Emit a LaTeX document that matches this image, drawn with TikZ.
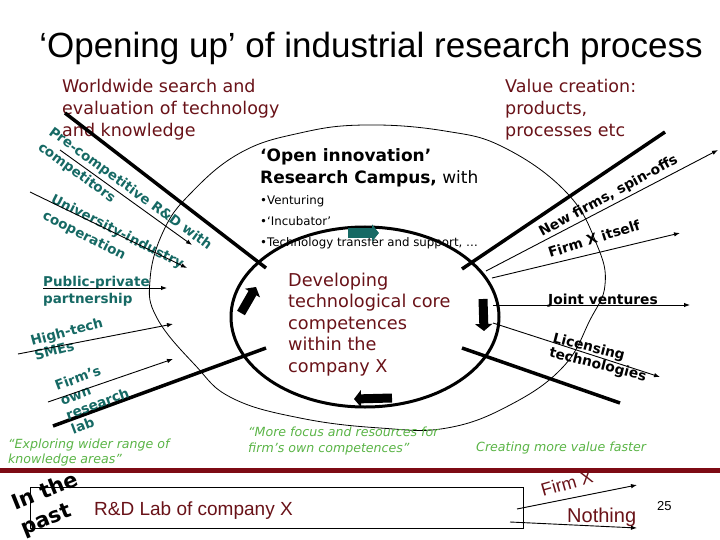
\documentclass[tikz,border=0pt]{standalone}
\usepackage{fontspec}
\setmainfont{DejaVu Sans}
\newfontfamily\titlefont{Liberation Sans}
\usetikzlibrary{arrows.meta, positioning}

\definecolor{labelteal}{RGB}{22,105,100}
\definecolor{textred}{RGB}{105,18,24}
\definecolor{rulered}{RGB}{125,10,20}
\definecolor{quotegreen}{RGB}{90,180,70}

\begin{document}
\begin{tikzpicture}[
x=1pt, y=-1pt,
every node/.style={inner sep=0pt, align=left},
redtext/.style={text=textred, font=\fontsize{17.5}{22}\selectfont, anchor=base west},
reach/.style={text=labelteal, font=\bfseries\fontsize{13.5}{18.5}\selectfont, anchor=base west},
outlet/.style={font=\bfseries\fontsize{13.8}{15}\selectfont, anchor=base west},
quote/.style={text=quotegreen, font=\itshape\fontsize{12.6}{15.5}\selectfont, anchor=base west},
arrow/.style={-{Latex[length=6pt, width=4.5pt]}, line width=0.9pt},
funnel/.style={line width=3.5pt},
turn/.style={line width=9pt, -{Triangle[length=7pt, width=17pt]}}
]

\useasboundingbox (0,0) rectangle (720,540);

% ---------- TITLE ----------

\node[font=\titlefont\fontsize{35}{40}\selectfont, anchor=base] (title) at (371,58)
{‘Opening up’ of industrial research process};

% ---------- CAMPUS AND CORE ----------
% (multi-line nodes sit on the baseline of their last line)

\draw[line width=0.8pt] plot[smooth cycle, tension=0.7] coordinates {
(365,125) (445,131) (505,148) (567,193) (597,245) (605,285) (590,320)
(563,367) (510,405) (447,428) (380,428) (300,418) (232,398) (195,365)
(157,318) (150,280) (163,232) (190,194) (240,153) (300,133)};

\coordinate (core) at (365,317);
\draw[line width=3pt] (core) ellipse [x radius=134pt, y radius=90pt];

\node[redtext] (search) at (62,137)
{Worldwide search and\\
evaluation of technology\\
and knowledge};

\node[redtext] (value) at (505,137)
{Value creation:\\
products,\\
processes etc};

\node[redtext, font=\fontsize{17.7}{21.5}\selectfont] (competences) at (288,372)
{Developing\\
technological core\\
competences\\
within the\\
company X};

\node[font=\bfseries\fontsize{17}{21.5}\selectfont, anchor=base west] (campus) at (260,183.5)
{‘Open innovation’\\
Research Campus,\mdseries{} with};

\node[font=\fontsize{11.8}{21}\selectfont, anchor=base west] (services) at (260,247)
{•Venturing\\
•‘Incubator’\\
•Technology transfer and support, …};

% ---------- CYCLE ON THE CORE ----------

\coordinate (turn-t-s) at (348,233);
\coordinate (turn-t-e) at (379,233);
\coordinate (turn-r-s) at (483,299);
\coordinate (turn-r-e) at (484,331);
\coordinate (turn-b-s) at (392,398);
\coordinate (turn-b-e) at (354,399);
\coordinate (turn-l-s) at (241,313);
\coordinate (turn-l-e) at (256,287);

\draw[turn, labelteal] (turn-t-s) -- (turn-t-e);
\draw[turn] (turn-r-s) -- (turn-r-e);
\draw[turn] (turn-b-s) -- (turn-b-e);
\draw[turn] (turn-l-s) -- (turn-l-e);

% ---------- FUNNEL ----------

\coordinate (funnel-nw) at (65,113);
\coordinate (funnel-nw-in) at (266,268);
\coordinate (funnel-ne) at (665,132);
\coordinate (funnel-ne-in) at (462,269);
\coordinate (funnel-sw) at (53,426);
\coordinate (funnel-sw-in) at (266,348);
\coordinate (funnel-se) at (620,403);
\coordinate (funnel-se-in) at (462,348);

\draw[funnel] (funnel-nw) -- (funnel-nw-in);
\draw[funnel] (funnel-ne) -- (funnel-ne-in);
\draw[funnel] (funnel-sw) -- (funnel-sw-in);
\draw[funnel] (funnel-se) -- (funnel-se-in);

% ---------- INFLOWS ----------

\node[reach, rotate=-36] (precomp) at (37.1,149)
{Pre-competitive R\&D with\\
competitors};

\node[reach, rotate=-27] (univ) at (41.6,218.5)
{University-industry\\
cooperation};

\node[reach, font=\bfseries\fontsize{13.5}{17}\selectfont] (ppp) at (43,303)
{Public-private\\
partnership};

\node[reach, rotate=15, font=\bfseries\fontsize{13.5}{15}\selectfont] (smes) at (35.9,360.5)
{High-tech\\
SMEs};

\node[reach, rotate=20.5, font=\bfseries\fontsize{13.5}{15.5}\selectfont] (ownlab) at (73.3,434.6)
{Firm’s\\
own\\
research\\
lab};

\coordinate (precomp-s) at (60,150);
\coordinate (precomp-e) at (192,245);
\coordinate (univ-s) at (30,192);
\coordinate (univ-e) at (187,268);
\coordinate (ppp-s) at (43,288);
\coordinate (ppp-e) at (167,288);
\coordinate (smes-s) at (18,354);
\coordinate (smes-e) at (173,324);
\coordinate (ownlab-s) at (48,402);
\coordinate (ownlab-e) at (173,359);

\draw[arrow] (precomp-s) -- (precomp-e);
\draw[arrow] (univ-s) -- (univ-e);
\draw[arrow] (ppp-s) -- (ppp-e);
\draw[arrow] (smes-s) -- (smes-e);
\draw[arrow] (ownlab-s) -- (ownlab-e);

% ---------- OUTFLOWS ----------

\node[outlet, rotate=28.6] (spinoffs) at (542,237) {New firms, spin-offs};
\node[outlet, rotate=17.5] (itself) at (550,258) {Firm X itself};
\node[outlet] (jv) at (548,304) {Joint ventures};
\node[outlet, rotate=-14.4] (licensing) at (548.3,356.5)
{Licensing\\
technologies};

\coordinate (spinoffs-s) at (486,271);
\coordinate (spinoffs-e) at (718,150);
\coordinate (itself-s) at (492,278);
\coordinate (itself-e) at (680,233);
\coordinate (jv-s) at (493,305);
\coordinate (jv-e) at (690,305);
\coordinate (licensing-s) at (493,323);
\coordinate (licensing-e) at (660,377);

\draw[arrow] (spinoffs-s) -- (spinoffs-e);
\draw[arrow] (itself-s) -- (itself-e);
\draw[arrow] (jv-s) -- (jv-e);
\draw[arrow] (licensing-s) -- (licensing-e);

% ---------- QUOTES ----------

\node[quote] (explore) at (8,463.5)
{“Exploring wider range of\\
knowledge areas”};

\node[quote, font=\itshape\fontsize{12.6}{16}\selectfont] (focus) at (248,452)
{“More focus and resources for\\
firm’s own competences”};

\node[quote] (faster) at (476,451) {Creating more value faster};

% ---------- IN THE PAST ----------

\coordinate (rule-w) at (0,470);
\coordinate (rule-e) at (720,470);
\draw[rulered, line width=5pt] (rule-w) -- (rule-e);

\node[draw, line width=0.8pt, minimum width=493pt, minimum height=41pt, anchor=north west] (labbox) at (30,487) {};

\node[text=textred, font=\titlefont\fontsize{19}{22}\selectfont, anchor=base west] (labtext) at (94,515)
{R\&D Lab of company X};

\node[font=\bfseries\fontsize{21}{26}\selectfont, rotate=22, anchor=base west] (past) at (24.7,535.1)
{In the\\
past};

\node[text=textred, font=\titlefont\fontsize{18}{20}\selectfont, rotate=16, anchor=base west] (firmx) at (543,497) {Firm X};
\node[text=textred, font=\titlefont\fontsize{20}{22}\selectfont, anchor=base west] (nothing) at (567,522) {Nothing};

\coordinate (firmx-s) at (517,509);
\coordinate (firmx-e) at (637,485);
\coordinate (nothing-s) at (510,522);
\coordinate (nothing-e) at (637,528);

\draw[arrow] (firmx-s) -- (firmx-e);
\draw[arrow] (nothing-s) -- (nothing-e);

\node[font=\titlefont\fontsize{13}{15}\selectfont, anchor=base west] (page) at (657,510) {25};

\end{tikzpicture}
\end{document}
